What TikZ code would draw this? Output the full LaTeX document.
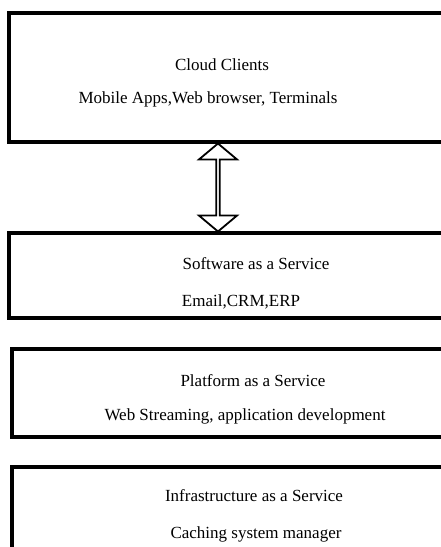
\documentclass[tikz,border=0pt]{standalone}
\usepackage{fontspec}
\setmainfont{Liberation Serif}
\usetikzlibrary{calc,shapes.arrows}
\tikzset{
  layerbox/.style={rectangle, draw=black, line width=3.2pt, inner sep=0pt, minimum width=436pt},
  layertext/.style={font=\fontsize{17}{20}\selectfont, inner sep=0pt, anchor=base},
  updownarrow/.style={double arrow, draw=black, fill=white, line width=1.8pt, rotate=90, inner sep=0pt, minimum width=38pt, double arrow head extend=9pt, double arrow tip angle=100},
}
\begin{document}
\begin{tikzpicture}[x=1pt,y=-1pt]
  \clip (0,0) rectangle (441,547);
  \fill[white] (0,0) rectangle (441,547);

  % Layers
  \node[layerbox, minimum height=129pt] (cloud) at (227,77.5) {};
  \node[layerbox, minimum height=85pt] (saas) at (227,275.5) {};
  \node[layerbox, minimum width=433pt, minimum height=88pt] (paas) at (228.5,393) {};
  \node[layerbox, minimum width=433pt, minimum height=93pt] (iaas) at (228.5,513.5) {};

  % Texts
  \node[layertext] (cloudT) at (222,70) {Cloud Clients};
  \node[layertext] (cloudS) at (208,103.5) {Mobile Apps,Web browser, Terminals};
  \node[layertext] (saasT) at (256,269.5) {Software as a Service};
  \node[layertext] (saasS) at (241,306.5) {Email,CRM,ERP};
  \node[layertext] (paasT) at (253,386.5) {Platform as a Service};
  \node[layertext] (paasS) at (245,420) {Web Streaming, application development};
  \node[layertext] (iaasT) at (254,501.5) {Infrastructure as a Service};
  \node[layertext] (iaasS) at (256,538) {Caching system manager};

  % Two-way arrow between clients and SaaS
  \node[updownarrow, minimum height=88pt] (link) at ($(cloud.south)!0.5!(saas.north) + (-9,0)$) {};
\end{tikzpicture}
\end{document}
